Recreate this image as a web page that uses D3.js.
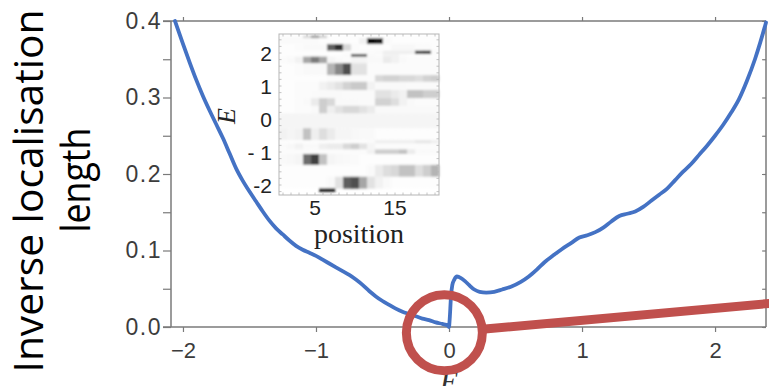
<!DOCTYPE html>
<html><head><meta charset="utf-8">
<script src="https://cdn.jsdelivr.net/npm/d3@7"></script>
<style>body{margin:0;background:#fff} svg{display:block}</style>
</head><body>
<svg id="c" width="769" height="386"></svg>
<script>
// ---- main curve data ----
const energy = [-2.06,-2.00,-1.95,-1.90,-1.85,-1.80,-1.75,-1.70,-1.65,-1.60,-1.55,-1.50,-1.45,-1.40,-1.35,-1.30,-1.25,-1.20,-1.15,-1.10,-1.05,-1.00,-0.95,-0.90,-0.85,-0.80,-0.75,-0.70,-0.65,-0.60,-0.55,-0.50,-0.45,-0.40,-0.35,-0.30,-0.25,-0.20,-0.15,-0.10,-0.05,-0.01,0.00,0.005,0.015,0.025,0.04,0.06,0.09,0.12,0.15,0.19,0.23,0.28,0.34,0.40,0.47,0.54,0.60,0.66,0.72,0.78,0.85,0.92,0.98,1.04,1.10,1.16,1.22,1.28,1.34,1.40,1.46,1.52,1.58,1.64,1.70,1.76,1.82,1.88,1.94,2.00,2.06,2.12,2.18,2.24,2.30,2.34,2.383];
const invLoc = [0.400,0.370,0.346,0.323,0.302,0.283,0.265,0.247,0.227,0.207,0.191,0.177,0.164,0.151,0.139,0.129,0.121,0.113,0.106,0.101,0.097,0.093,0.088,0.083,0.078,0.073,0.068,0.062,0.055,0.047,0.040,0.034,0.029,0.024,0.020,0.017,0.014,0.011,0.009,0.006,0.004,0.002,0.000,0.010,0.040,0.055,0.062,0.066,0.064,0.060,0.055,0.049,0.046,0.045,0.046,0.049,0.053,0.059,0.066,0.075,0.085,0.093,0.102,0.110,0.117,0.120,0.124,0.130,0.138,0.145,0.148,0.151,0.157,0.165,0.173,0.181,0.192,0.203,0.213,0.225,0.237,0.250,0.264,0.280,0.298,0.322,0.350,0.372,0.398];
const xTicks = [-2,-1,0,1,2];
const yTicks = [0,0.1,0.2,0.3,0.4];
const yMinorTicks = [0,0.05,0.1,0.15,0.2,0.25,0.3,0.35,0.4];

// ---- inset data ----
const insetPositions = [1,2,3,4,5,6,7,8,9,10,11,12,13,14,15,16,17,18,19,20];
const insetXTicks = [5,15];
const insetYTicks = [2,1,0,-1,-2];
const insetYTickLabels = ["2","1","0","- 1","-2"];
const rowLow  = [2.45,2.27,2.07,1.97,1.89,1.69,1.33,1.13,0.88,0.63,0.40,0.17,-0.28,-0.64,-0.74,-0.92,-1.06,-1.39,-1.75,-2.10];
const rowHigh = [2.53,2.45,2.27,2.07,1.97,1.89,1.69,1.33,1.13,0.88,0.63,0.40,0.17,-0.28,-0.64,-0.74,-0.92,-1.06,-1.39,-1.75];
const rowValues = [
 [0.03,0.03,0.03,0.25,0.5,0.3,0.02,0.02,0.02,0.02,0.02,0.02,0.02,0.02,0.02,0.02,0.02,0.02,0.02,0.02],
 [0.04,0.04,0.04,0.04,0.04,0.02,0.02,0.02,0.02,0.02,0.1,0.95,0.9,0.05,0.02,0.02,0.02,0.02,0.02,0.02],
 [0.02,0.02,0.03,0.05,0.05,0.05,0.7,0.85,0.25,0.03,0.02,0.02,0.02,0.02,0.06,0.06,0.06,0.03,0.03,0.02],
 [0.02,0.02,0.02,0.02,0.02,0.02,0.02,0.02,0.02,0.03,0.03,0.03,0.05,0.12,0.12,0.12,0.12,0.85,0.9,0.05],
 [0.02,0.02,0.02,0.02,0.02,0.02,0.02,0.02,0.05,0.8,0.8,0.05,0.03,0.1,0.1,0.03,0.02,0.02,0.02,0.02],
 [0.03,0.05,0.1,0.45,0.6,0.45,0.08,0.05,0.03,0.08,0.08,0.05,0.05,0.15,0.1,0.05,0.03,0.03,0.03,0.03],
 [0.02,0.02,0.03,0.05,0.05,0.05,0.4,0.55,0.75,0.2,0.2,0.03,0.03,0.03,0.03,0.03,0.03,0.03,0.03,0.03],
 [0.02,0.02,0.02,0.02,0.02,0.02,0.03,0.03,0.03,0.03,0.03,0.03,0.25,0.28,0.28,0.25,0.25,0.22,0.28,0.3],
 [0.02,0.02,0.03,0.03,0.03,0.1,0.15,0.2,0.28,0.32,0.32,0.1,0.05,0.05,0.05,0.05,0.04,0.04,0.04,0.04],
 [0.02,0.02,0.03,0.03,0.04,0.05,0.05,0.05,0.04,0.04,0.04,0.04,0.2,0.2,0.15,0.1,0.35,0.35,0.3,0.3],
 [0.02,0.02,0.03,0.05,0.15,0.3,0.25,0.05,0.05,0.05,0.04,0.04,0.28,0.28,0.22,0.1,0.05,0.03,0.03,0.03],
 [0.02,0.02,0.03,0.03,0.05,0.3,0.12,0.2,0.25,0.25,0.2,0.15,0.05,0.05,0.05,0.05,0.05,0.05,0.05,0.05],
 [0.08,0.08,0.08,0.08,0.08,0.08,0.08,0.08,0.08,0.08,0.08,0.08,0.08,0.08,0.08,0.08,0.08,0.08,0.08,0.08],
 [0.1,0.08,0.1,0.35,0.12,0.22,0.15,0.08,0.08,0.06,0.05,0.05,0.02,0.02,0.02,0.02,0.02,0.02,0.02,0.02],
 [0.02,0.02,0.02,0.02,0.02,0.02,0.02,0.02,0.02,0.02,0.02,0.04,0.12,0.12,0.12,0.12,0.12,0.18,0.18,0.12],
 [0.04,0.06,0.1,0.05,0.05,0.12,0.15,0.15,0.25,0.3,0.2,0.08,0.03,0.03,0.03,0.03,0.03,0.03,0.03,0.03],
 [0.03,0.03,0.03,0.03,0.03,0.03,0.03,0.03,0.03,0.03,0.03,0.1,0.3,0.3,0.3,0.35,0.15,0.05,0.05,0.05],
 [0.05,0.06,0.08,0.65,0.8,0.35,0.08,0.06,0.05,0.04,0.02,0.02,0.02,0.02,0.02,0.02,0.02,0.02,0.02,0.02],
 [0.02,0.02,0.02,0.02,0.02,0.02,0.02,0.02,0.02,0.02,0.02,0.05,0.15,0.22,0.25,0.35,0.35,0.22,0.3,0.4],
 [0.02,0.02,0.02,0.02,0.02,0.02,0.05,0.2,0.7,0.75,0.45,0.2,0.1,0.05,0.02,0.02,0.02,0.02,0.02,0.02]
];
const barLow = [-2.20], barHigh = [-2.10], barValues = [[0,0,0,0,0,0.9,0.9,0,0,0,0,0,0,0,0,0,0,0,0,0]];

// ---- annotation (data coordinates) ----
const ringCenter = {E: -0.035, v: -0.0075};
const pointerEnd = {E: 2.42, v: 0.031};

const svg = d3.select("#c");
const x = d3.scaleLinear().domain([-2.09, 2.383]).range([171, 766]);
const y = d3.scaleLinear().domain([0, 0.4]).range([327, 21]);
const axisColor = "#7a7a7a", labelColor = "#3c3c3c";
const sans = "'Liberation Sans', Arial, sans-serif";
const serif = "'Liberation Serif', 'Times New Roman', serif";

function styleAxis(g){
  g.selectAll("path.domain").remove();
  g.selectAll("line").attr("stroke", axisColor).attr("stroke-width",1.2);
  g.selectAll("text").attr("fill", labelColor).style("font-family", sans).style("font-size","22px");
}

// frame lines
svg.append("line").attr("x1",163).attr("x2",x.range()[1]).attr("y1",y(0)).attr("y2",y(0)).attr("stroke",axisColor).attr("stroke-width",1.5);
svg.append("line").attr("x1",x.range()[0]).attr("x2",x.range()[0]).attr("y1",y(0.4)).attr("y2",y(0)).attr("stroke",axisColor).attr("stroke-width",1.5);
svg.append("line").attr("x1",163).attr("x2",x.range()[1]).attr("y1",y(0.4)).attr("y2",y(0.4)).attr("stroke",axisColor).attr("stroke-width",1.5);
svg.append("line").attr("x1",x.range()[1]).attr("x2",x.range()[1]).attr("y1",y(0.4)).attr("y2",y(0)).attr("stroke",axisColor).attr("stroke-width",1.5);

const fmtY = d3.format(".1f");
svg.append("g").attr("transform",`translate(${x.range()[0]},0)`)
  .call(d3.axisLeft(y).tickValues(yMinorTicks).tickSize(8).tickPadding(1)
    .tickFormat(d => yTicks.some(t => Math.abs(t-d)<1e-9) ? fmtY(d) : ""))
  .call(styleAxis)
  .call(g => g.selectAll("text").style("font-size","23px").style("letter-spacing","1.5px"));
svg.append("g").attr("transform",`translate(${x.range()[1]},0)`)
  .call(d3.axisLeft(y).tickValues(yMinorTicks).tickSize(4).tickFormat(""))
  .call(styleAxis);
svg.append("g").attr("transform",`translate(0,${y(0)})`)
  .call(d3.axisBottom(x).tickValues(xTicks).tickSize(5).tickPadding(10)
    .tickFormat(d => d < 0 ? "\u2212" + Math.abs(d) : String(d)))
  .call(styleAxis);
svg.append("g").attr("transform",`translate(0,${y(0.4)})`)
  .call(d3.axisTop(x).tickValues(xTicks).tickSize(4).tickFormat(""))
  .call(styleAxis);

// main curve
const pts = energy.map((e,i)=>[e, invLoc[i]]);
svg.append("path").datum(pts)
  .attr("fill","none").attr("stroke","#4472c4").attr("stroke-width",3.8)
  .attr("stroke-linejoin","round").attr("stroke-linecap","round")
  .attr("d", d3.line().x(d=>x(d[0])).y(d=>y(d[1])).curve(d3.curveMonotoneX));

// x label
svg.append("text").attr("x", x(0)).attr("y", 391).attr("text-anchor","middle")
  .style("font-family", serif).style("font-style","italic").style("font-size","30px").attr("fill","#333").text("E");

// y label
svg.append("text").attr("transform","translate(43,191) rotate(-90)").attr("text-anchor","middle")
  .style("font-family","'Open Sans', 'Noto Sans', sans-serif").style("font-size","40px").attr("fill","#000")
  .attr("textLength",363).attr("lengthAdjust","spacingAndGlyphs").text("Inverse localisation");
svg.append("text").attr("transform","translate(90,180) rotate(-90)").attr("text-anchor","middle")
  .style("font-family","'Open Sans', 'Noto Sans', sans-serif").style("font-size","40px").attr("fill","#000")
  .attr("textLength",105).attr("lengthAdjust","spacingAndGlyphs").text("length");

// ---- inset ----
const ix = d3.scaleLinear().domain([0.5, 20.5]).range([279, 439]);
const iy = d3.scaleLinear().domain([-2.303, 2.576]).range([195, 34]);
const grey = d3.scaleSequential(d3.interpolateGreys).domain([0, 1]);
const defs = svg.append("defs");
defs.append("filter").attr("id","soft").append("feGaussianBlur").attr("stdDeviation",0.8);
const inset = svg.append("g");
inset.append("rect").attr("x",ix(0.5)).attr("y",iy(2.576)).attr("width",ix(20.5)-ix(0.5)).attr("height",iy(-2.303)-iy(2.576)).attr("fill","#fff");
const cells = inset.append("g").attr("filter","url(#soft)");
function drawRows(lo, hi, vals){
  vals.forEach((row, r) => {
    cells.selectAll(null).data(row.map((v,c)=>({v, p: insetPositions[c]}))).enter().append("rect")
      .attr("x", d => ix(d.p-0.5)).attr("width", d => ix(d.p+0.5)-ix(d.p-0.5)+0.3)
      .attr("y", iy(hi[r])).attr("height", iy(lo[r]) - iy(hi[r]) + 0.3)
      .attr("fill", d => grey(d.v))
      .attr("opacity", d => d.v === 0 ? 0 : 1);
  });
}
drawRows(rowLow, rowHigh, rowValues);
drawRows(barLow, barHigh, barValues);
inset.append("rect").attr("x",ix(0.5)).attr("y",iy(2.576)).attr("width",ix(20.5)-ix(0.5)).attr("height",iy(-2.303)-iy(2.576))
  .attr("fill","none").attr("stroke","#b5b5b5").attr("stroke-width",1);
// inner minor ticks
const itk = inset.append("g").attr("stroke","#b5b5b5").attr("stroke-width",0.8);
insetPositions.forEach(p => {
  itk.append("line").attr("x1",ix(p)).attr("x2",ix(p)).attr("y1",iy(2.576)).attr("y2",iy(2.576)+2.5);
  itk.append("line").attr("x1",ix(p)).attr("x2",ix(p)).attr("y1",iy(-2.303)).attr("y2",iy(-2.303)-2.5);
});
d3.range(-22, 26, 2).map(k => k/10).forEach(e => {
  itk.append("line").attr("x1",ix(0.5)).attr("x2",ix(0.5)+2.5).attr("y1",iy(e)).attr("y2",iy(e));
  itk.append("line").attr("x1",ix(20.5)).attr("x2",ix(20.5)-2.5).attr("y1",iy(e)).attr("y2",iy(e));
});
inset.selectAll(null).data(insetYTicks).enter().append("text")
  .attr("x", 272).attr("y", d => iy(d)).attr("dy","0.36em").attr("text-anchor","end")
  .style("font-family", sans).style("font-size","21px").attr("fill","#222")
  .text((d,i) => insetYTickLabels[i]);
inset.selectAll(null).data(insetXTicks).enter().append("text")
  .attr("x", d => ix(d)).attr("y", 215).attr("text-anchor","middle")
  .style("font-family", sans).style("font-size","21px").attr("fill","#222").text(d => d);
inset.append("text").attr("x", 359).attr("y", 243).attr("text-anchor","middle")
  .style("font-family", serif).style("font-size","28px").attr("fill","#222").text("position");
inset.append("text").attr("transform","translate(235,116) rotate(-90)").attr("text-anchor","middle")
  .style("font-family", serif).style("font-style","italic").style("font-size","26px").attr("fill","#222").text("E");

// ---- red annotation ----
const red = "#c0504d";
const cx = x(ringCenter.E), cy = y(ringCenter.v), R = 38;
const ex = x(pointerEnd.E), ey = y(pointerEnd.v);
const ang = Math.atan2(ey-cy, ex-cx);
svg.append("line").attr("x1", cx + R*Math.cos(ang)).attr("y1", cy + R*Math.sin(ang))
  .attr("x2", ex).attr("y2", ey).attr("stroke", red).attr("stroke-width", 9);
svg.append("circle").attr("cx", cx).attr("cy", cy).attr("r", R)
  .attr("fill","none").attr("stroke", red).attr("stroke-width", 9);
</script>
</body></html>
